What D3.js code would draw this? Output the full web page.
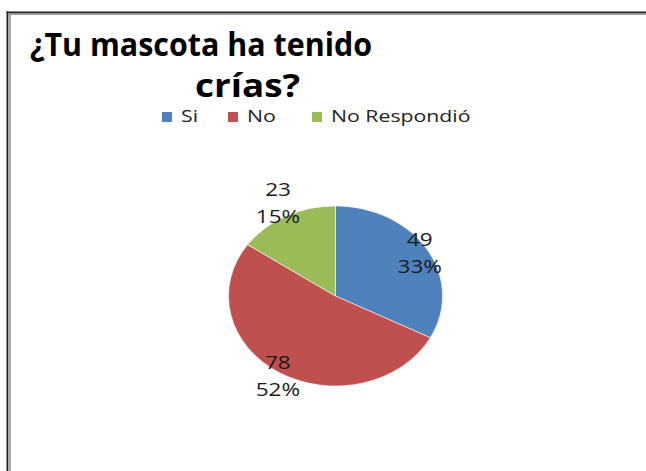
<!DOCTYPE html>
<html>
<head>
<meta charset="utf-8">
<script src="https://cdn.jsdelivr.net/npm/d3@7"></script>
<style>
  body { margin: 0; background: #fff; }
  svg text { font-family: "Open Sans", "DejaVu Sans", sans-serif; }
</style>
</head>
<body>
<script>
// Chart data
var categories = ["Si", "No", "No Respondió"]
var values = [49, 78, 23]
var colors = ["#4F81BD", "#C0504D", "#9BBB59"]
var titleLines = ["¿Tu mascota ha tenido", "crías?"]

var width = 646, height = 471;

var svg = d3.select("body")
            .append("svg")
            .attr("width", width)
            .attr("height", height);

// Frame of the chart area (left and top edges only are visible)
svg.append("rect").attr("x", 8).attr("y", 13).attr("width", 3).attr("height", height - 13).attr("fill", "#a9a9a9");
svg.append("rect").attr("x", 8).attr("y", 13).attr("width", width - 8).attr("height", 2).attr("fill", "#9a9a9a");
svg.append("rect").attr("x", 6.5).attr("y", 11.5).attr("width", 1.5).attr("height", height).attr("fill", "#1e1e1e");
svg.append("rect").attr("x", 6.5).attr("y", 11.5).attr("width", width).attr("height", 1.5).attr("fill", "#1e1e1e");

// Title
var titlePos = [{x: 30, y: 56, w: 342}, {x: 195, y: 97, w: 105}];
svg.selectAll(".title")
   .data(titleLines)
   .enter()
   .append("text")
   .attr("class", "title")
   .attr("x", function(d, i){ return titlePos[i].x; })
   .attr("y", function(d, i){ return titlePos[i].y; })
   .attr("textLength", function(d, i){ return titlePos[i].w; })
   .attr("lengthAdjust", "spacingAndGlyphs")
   .style("font-size", "33px")
   .style("font-weight", "bold")
   .attr("fill", "#000")
   .text(function(d){ return d; });

// Legend
var legendX = [162, 228, 312];
var legend = svg.selectAll(".legendItem")
   .data(categories)
   .enter()
   .append("g")
   .attr("class", "legendItem")
   .attr("transform", function(d, i){ return "translate(" + legendX[i] + ",112)"; });

legend.append("rect")
      .attr("width", 10)
      .attr("height", 10)
      .attr("fill", function(d, i){ return colors[i]; });

legend.append("text")
      .attr("x", 19)
      .attr("y", 10)
      .attr("fill", "#222")
      .style("font-size", "16px")
      .attr("transform", "translate(19,0) scale(1.33,1) translate(-19,0)")
      .text(function(d){ return d; });

// Pie chart (flattened ellipse)
var cx = 335.5, cy = 296, radius = 107, ky = 90 / 107;

var pie = d3.pie()
            .value(function(d){ return d; })
            .sort(null);

var arc = d3.arc()
            .innerRadius(0)
            .outerRadius(radius);

var pieG = svg.append("g")
              .attr("transform", "translate(" + cx + "," + cy + ") scale(1," + ky + ")");

var arcs = pie(values);

pieG.selectAll("path")
    .data(arcs)
    .enter()
    .append("path")
    .attr("d", arc)
    .attr("fill", function(d, i){ return colors[i]; })
    .attr("stroke", "#ffffff")
    .attr("stroke-width", 0.6);

// Data labels: value and percentage
var total = d3.sum(values);
var labelFactor = [0.92, 1.04, 1.16];

var labels = svg.selectAll(".pieLabel")
   .data(arcs)
   .enter()
   .append("g")
   .attr("class", "pieLabel")
   .attr("transform", function(d, i){
     var a = (d.startAngle + d.endAngle) / 2;
     var r = radius * labelFactor[i];
     var x = cx + Math.sin(a) * r;
     var y = cy - Math.cos(a) * r * ky;
     return "translate(" + x + "," + y + ") scale(1.25,1)";
   });

labels.append("text")
      .attr("text-anchor", "middle")
      .attr("y", -7)
      .attr("fill", "#1a1a1a")
      .style("font-size", "18px")
      .text(function(d){ return d.value; });

labels.append("text")
      .attr("text-anchor", "middle")
      .attr("y", 20)
      .attr("fill", "#1a1a1a")
      .style("font-size", "18px")
      .text(function(d){ return Math.round(d.value / total * 100) + "%"; });
</script>
</body>
</html>
